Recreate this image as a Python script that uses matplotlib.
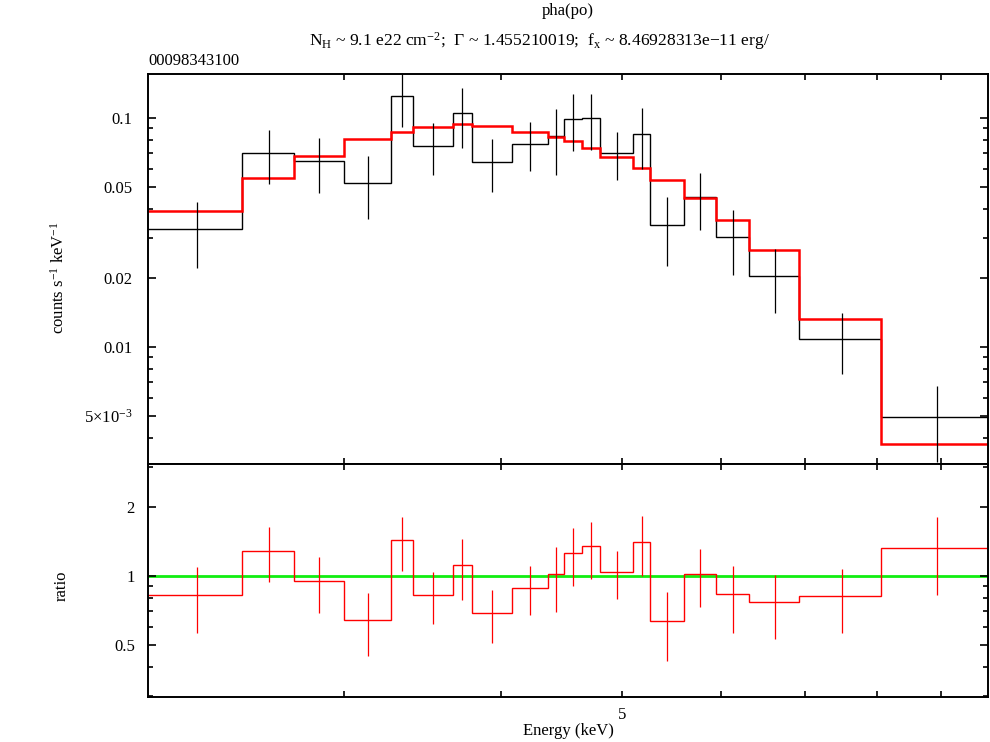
import numpy as np
import matplotlib
matplotlib.use('Agg')
import matplotlib.pyplot as plt
from matplotlib.ticker import FixedLocator, NullFormatter, FixedFormatter

plt.rcParams['font.family'] = ['Liberation Serif', 'DejaVu Serif']
plt.rcParams['mathtext.fontset'] = 'custom'
plt.rcParams['mathtext.rm'] = 'Liberation Serif'
plt.rcParams['mathtext.it'] = 'Liberation Serif:italic'
plt.rcParams['font.size'] = 12

# bin edges (keV)
edges = [2.09, 2.487, 2.735, 2.996, 3.266, 3.404, 3.664, 3.793, 4.082, 4.365,
         4.496, 4.648, 4.802, 5.105, 5.264, 5.605, 5.942, 6.318, 6.928, 8.055, 9.81]

# data (counts/s/keV) and errors
data = [0.0326, 0.0703, 0.0646, 0.0520, 0.1243, 0.0757, 0.1047, 0.0642, 0.0770, 0.0831,
        0.0993, 0.0998, 0.0703, 0.0851, 0.0340, 0.0450, 0.0302, 0.0204, 0.01084, 0.00494]
data_err = [0.01044, 0.0187, 0.0175, 0.0159, 0.0333, 0.0193, 0.0308, 0.0168, 0.0186, 0.0266,
            0.0278, 0.0275, 0.0166, 0.0250, 0.01135, 0.01255, 0.0095, 0.0063, 0.00324, 0.00181]

# folded model
model = [0.0394, 0.0544, 0.0679, 0.0806, 0.0871, 0.0916, 0.0941, 0.0925, 0.0871, 0.0826,
         0.0790, 0.0742, 0.0673, 0.0602, 0.0534, 0.0447, 0.0359, 0.0266, 0.01326, 0.003766]

# data/model ratio
ratio = [0.829, 1.286, 0.950, 0.645, 1.430, 0.829, 1.115, 0.689, 0.888, 1.018,
         1.260, 1.345, 1.040, 1.410, 0.638, 1.018, 0.836, 0.768, 0.819, 1.318]
ratio_err = [0.265, 0.349, 0.258, 0.198, 0.379, 0.212, 0.329, 0.180, 0.212, 0.322,
             0.354, 0.375, 0.246, 0.412, 0.212, 0.286, 0.270, 0.238, 0.256, 0.493]

edges = np.array(edges)
centers = 0.5 * (edges[:-1] + edges[1:])

W, H = 990, 742
fig = plt.figure(figsize=(W / 100, H / 100), dpi=100)
x0, x1 = 148 / W, 988 / W
ax1 = fig.add_axes([x0, 1 - 464 / H, x1 - x0, (464 - 74) / H])
ax2 = fig.add_axes([x0, 1 - 697 / H, x1 - x0, (697 - 464) / H])

# top panel
ax1.stairs(data, edges, baseline=None, color='black', linewidth=1.0)
ax1.errorbar(centers, data, yerr=data_err, fmt='none', ecolor='black', elinewidth=0.9, capsize=0)
ax1.stairs(model, edges, baseline=None, color='red', linewidth=1.8)

# ratio panel
ax2.axhline(1.0, color='#11ee11', linewidth=2.0, zorder=1)
ax2.stairs(ratio, edges, baseline=None, color='red', linewidth=1.0, zorder=2)
ax2.errorbar(centers, ratio, yerr=ratio_err, fmt='none', ecolor='red', elinewidth=0.9, capsize=0, zorder=2)

for ax in (ax1, ax2):
    ax.set_xscale('log')
    ax.set_yscale('log')
    ax.set_xlim(edges[0], edges[-1])
    for s in ax.spines.values():
        s.set_linewidth(1.4)
    ax.xaxis.set_major_locator(FixedLocator([5]))
    ax.xaxis.set_minor_locator(FixedLocator([3, 4, 6, 7, 8, 9]))
    ax.xaxis.set_minor_formatter(NullFormatter())
    ax.tick_params(which='both', direction='in', top=True, right=True, width=1.2)
    ax.tick_params(axis='x', which='both', length=4)
    ax.tick_params(axis='y', which='major', length=6)
    ax.tick_params(axis='y', which='minor', length=3.5)

ax1.set_ylim(0.00308, 0.1556)
ax1.yaxis.set_major_locator(FixedLocator([0.005, 0.01, 0.02, 0.05, 0.1]))
ax1.yaxis.set_major_formatter(FixedFormatter([r'5$\times$10$^{-3}$', '0.01', '0.02', '0.05', '0.1']))
ax1.yaxis.set_minor_locator(FixedLocator([0.004, 0.006, 0.007, 0.008, 0.009, 0.03, 0.04,
                                          0.06, 0.07, 0.08, 0.09]))
ax1.yaxis.set_minor_formatter(NullFormatter())
ax1.xaxis.set_major_formatter(NullFormatter())
ax1.tick_params(axis='y', which='major', pad=11.5)
ax1.set_ylabel(r'counts s$^{-1}$ keV$^{-1}$')
ax1.yaxis.set_label_coords(-0.096, (464 - 278) / 390)

ax2.set_ylim(0.296, 3.08)
ax2.yaxis.set_major_locator(FixedLocator([0.5, 1, 2]))
ax2.yaxis.set_major_formatter(FixedFormatter(['0.5', '1', '2']))
ax2.yaxis.set_minor_locator(FixedLocator([0.3, 0.4, 0.6, 0.7, 0.8, 0.9, 3]))
ax2.yaxis.set_minor_formatter(NullFormatter())
ax2.xaxis.set_major_formatter(FixedFormatter(['5']))
ax2.tick_params(axis='x', which='major', pad=7)
ax2.tick_params(axis='y', which='major', pad=9.5)
ax2.set_ylabel('ratio')
ax2.yaxis.set_label_coords(-0.093, (697 - 586) / 233)
ax2.set_xlabel('Energy (keV)', labelpad=0)

fig.text(568 / W, 1 - 11 / H, 'pha(po)', ha='center', va='center')
fig.text(540 / W, 1 - 41 / H,
         'N$_\\mathrm{H}$ ~ 9.1 e22 cm$^{-2}$;  \u0393 ~ 1.455210019;  f$_\\mathrm{x}$ ~ 8.46928313e\u221211 erg/',
         ha='center', va='center', fontsize=12.6)
fig.text(148 / W, 1 - 61 / H, '00098343100', ha='left', va='center')

fig.savefig('out.png', dpi=100)
